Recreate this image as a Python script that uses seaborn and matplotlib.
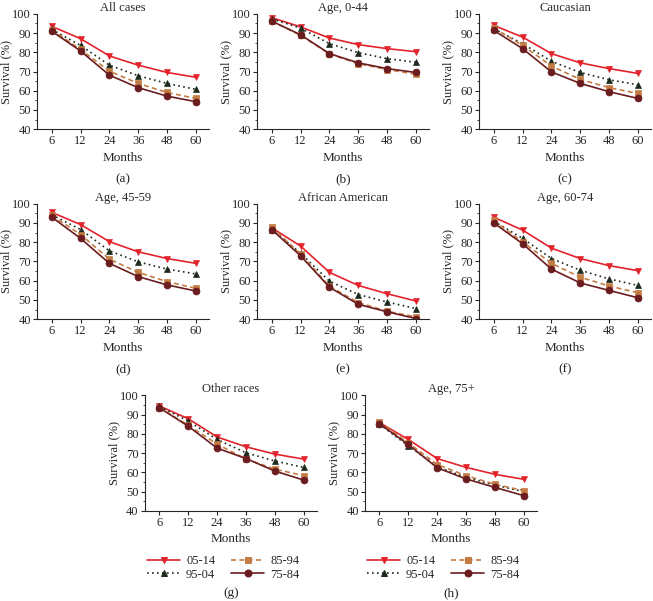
import matplotlib
matplotlib.use("Agg")
import matplotlib.pyplot as plt
from matplotlib.ticker import MultipleLocator
import pandas as pd
import seaborn as sns

# ── Data (survival %) ─────────────────────────────────────────────────────────
MONTHS = ["6", "12", "24", "36", "48", "60"]
PERIODS = ["05-14", "95-04", "85-94", "75-84"]

ALL_CASES = {
    "05-14": [93.5, 87.1, 78.1, 73.3, 69.5, 67.0],
    "95-04": [91.9, 83.6, 73.3, 67.8, 63.8, 60.7],
    "85-94": [91.7, 81.5, 70.2, 63.8, 59.1, 56.0],
    "75-84": [91.0, 80.7, 68.1, 61.6, 57.2, 54.3],
}
AGE_0_44 = {
    "05-14": [98.0, 93.2, 87.4, 84.0, 81.9, 80.3],
    "95-04": [97.4, 92.6, 84.5, 79.8, 76.7, 74.8],
    "85-94": [96.2, 88.8, 79.1, 74.1, 71.0, 68.6],
    "75-84": [96.2, 89.1, 79.3, 74.5, 71.5, 69.5],
}
CAUCASIAN = {
    "05-14": [94.0, 87.9, 79.3, 74.5, 71.5, 69.0],
    "95-04": [92.2, 84.5, 75.3, 69.5, 65.7, 63.1],
    "85-94": [92.6, 83.6, 72.8, 65.9, 61.6, 58.6],
    "75-84": [91.4, 81.9, 69.8, 63.8, 59.5, 56.0],
}
AGE_45_59 = {
    "05-14": [95.5, 89.2, 80.3, 75.0, 71.5, 69.0],
    "95-04": [94.3, 86.6, 75.5, 69.8, 66.0, 63.5],
    "85-94": [94.0, 84.0, 71.2, 64.3, 59.5, 56.0],
    "75-84": [93.1, 82.0, 69.0, 62.1, 57.8, 54.6],
}
AFRICAN_AMERICAN = {
    "05-14": [87.5, 78.0, 64.3, 57.5, 53.2, 49.4],
    "95-04": [86.6, 74.3, 59.7, 52.8, 48.9, 45.5],
    "85-94": [88.0, 73.8, 57.1, 48.6, 44.1, 41.2],
    "75-84": [86.6, 72.9, 56.6, 47.7, 43.8, 40.3],
}
AGE_60_74 = {
    "05-14": [93.0, 86.3, 76.9, 71.5, 67.8, 65.2],
    "95-04": [90.9, 82.0, 71.5, 65.4, 60.9, 57.5],
    "85-94": [91.3, 80.1, 69.0, 61.8, 57.2, 53.7],
    "75-84": [90.0, 79.2, 66.0, 58.8, 54.9, 51.1],
}
OTHER_RACES = {
    "05-14": [94.5, 87.9, 78.4, 73.3, 69.5, 66.9],
    "95-04": [94.3, 86.7, 77.1, 70.2, 65.9, 62.6],
    "85-94": [93.6, 84.5, 74.7, 66.9, 61.7, 58.3],
    "75-84": [93.6, 84.0, 72.6, 67.2, 60.7, 56.0],
}
AGE_75_PLUS = {
    "05-14": [85.9, 77.1, 67.2, 62.6, 59.0, 56.4],
    "95-04": [85.0, 73.8, 62.9, 57.4, 53.4, 50.0],
    "85-94": [86.2, 75.3, 64.1, 58.3, 53.8, 50.5],
    "75-84": [85.3, 74.5, 62.4, 56.6, 52.2, 47.9],
}

# (title, data, letter, left, bottom) — positions in figure fraction
PANELS = [
    ("All cases",        ALL_CASES,        "(a)", 0.057, 0.785),
    ("Age, 0-44",        AGE_0_44,         "(b)", 0.394, 0.785),
    ("Caucasian",        CAUCASIAN,        "(c)", 0.734, 0.785),
    ("Age, 45-59",       AGE_45_59,        "(d)", 0.057, 0.469),
    ("African American", AFRICAN_AMERICAN, "(e)", 0.394, 0.469),
    ("Age, 60-74",       AGE_60_74,        "(f)", 0.734, 0.469),
    ("Other races",      OTHER_RACES,      "(g)", 0.222, 0.150),
    ("Age, 75+",         AGE_75_PLUS,      "(h)", 0.559, 0.150),
]
AX_W, AX_H = 0.263, 0.192

PALETTE = {"05-14": "#e3232c", "95-04": "#1c2a1c", "85-94": "#c47c45", "75-84": "#6b1c1e"}
MARKERS = {"05-14": "v", "95-04": "^", "85-94": "s", "75-84": "o"}
DASHES = {"05-14": "", "95-04": (1, 2), "85-94": (3, 2), "75-84": ""}


def _long(data: dict) -> pd.DataFrame:
    rows = []
    for p in PERIODS:
        for m, v in zip(MONTHS, data[p]):
            rows.append({"Months": m, "Survival": v, "Period": p})
    return pd.DataFrame(rows)


sns.set_style("ticks")
plt.rcParams["font.family"] = ["Liberation Serif", "DejaVu Serif"]
plt.rcParams["font.size"] = 9

fig = plt.figure(figsize=(6.53, 6.01), dpi=100)

for title, data, letter, left, bottom in PANELS:
    ax = fig.add_axes([left, bottom, AX_W, AX_H])
    with_legend = letter in ("(g)", "(h)")
    sns.lineplot(data=_long(data), x="Months", y="Survival", hue="Period", style="Period",
                 hue_order=PERIODS, style_order=PERIODS, palette=PALETTE,
                 markers=MARKERS, dashes=DASHES, markersize=5, linewidth=1.2,
                 sort=False, legend=with_legend, ax=ax)
    for ln in ax.lines:
        ln.set_markeredgecolor(ln.get_color())
        ln.set_markeredgewidth(0.5)
    ax.set_xlim(-0.5, 5.45)
    ax.set_ylim(40, 100)
    ax.yaxis.set_major_locator(MultipleLocator(10))
    ax.yaxis.set_minor_locator(MultipleLocator(5))
    ax.tick_params(axis="both", which="major", labelsize=9, length=3, width=0.8, pad=1.5)
    ax.tick_params(axis="y", which="minor", length=1.5, width=0.6)
    ax.set_ylabel("Survival (%)", fontsize=9, labelpad=0)
    ax.set_xlabel("Months", fontsize=9.5, labelpad=3)
    ax.set_title(title, fontsize=9, pad=0)
    for s in ("left", "bottom"):
        ax.spines[s].set_linewidth(0.8)
    sns.despine(ax=ax)
    cx = left + AX_W * 0.5
    if with_legend:
        for ln in ax.get_legend().get_lines():
            ln.set_markeredgecolor(ln.get_color())
        sns.move_legend(ax, "upper left", bbox_to_anchor=(-0.03, -0.32), ncol=2,
                        frameon=False, title=None, fontsize=9, handlelength=2.6,
                        columnspacing=1.3, labelspacing=0.1, handletextpad=0.5,
                        borderaxespad=0.2)
        fig.text(cx, 0.013, letter, ha="center", va="center", fontsize=9.5)
    else:
        fig.text(cx, bottom - 0.083, letter, ha="center", va="center", fontsize=9.5)

fig.savefig("out.png", dpi=100)
